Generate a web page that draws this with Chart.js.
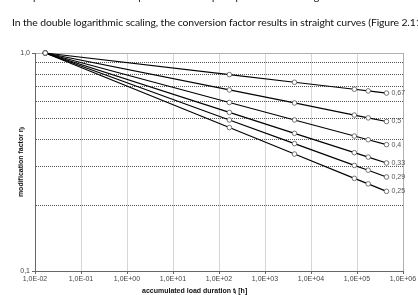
<!DOCTYPE html>
<html>
<head>
<meta charset="utf-8">
<script src="https://cdn.jsdelivr.net/npm/chart.js@4.4.0/dist/chart.umd.min.js"></script>
<style>
html,body{margin:0;padding:0;background:#fff;}
#wrap{position:relative;width:418px;height:295px;overflow:hidden;}
#canvas{position:absolute;left:0;top:0;}
.txt{position:absolute;left:12px;white-space:nowrap;font-family:Lato,"Open Sans",sans-serif;font-size:10.4px;letter-spacing:-0.1px;color:#111;}
</style>
</head>
<body>
<div id="wrap">
<canvas id="canvas" width="418" height="295"></canvas>
<div class="txt" style="top:-10px">Creep should be verified for permanent and quasi-permanent loading conditions.</div>
<div class="txt" style="top:16px">In the double logarithmic scaling, the conversion factor results in straight curves (Figure 2.11).</div>
</div>
<script>
// accumulated load duration [h]: 1 min, 1 week, 6 months, 10, 20, 50 years
var durations = [0.0167, 168, 4380, 87600, 175200, 438000];

var curveLabels = ['0,67', '0,5', '0,4', '0,33', '0,29', '0,25'];
var eta067 = [1.0, 0.796, 0.734, 0.682, 0.670, 0.655];
var eta05  = [1.0, 0.677, 0.590, 0.519, 0.504, 0.485];
var eta04  = [1.0, 0.593, 0.493, 0.416, 0.400, 0.380];
var eta033 = [1.0, 0.534, 0.428, 0.349, 0.333, 0.313];
var eta029 = [1.0, 0.493, 0.384, 0.305, 0.290, 0.270];
var eta025 = [1.0, 0.455, 0.344, 0.266, 0.251, 0.232];

var xTicks = [0.01, 0.1, 1, 10, 100, 1000, 10000, 100000, 1000000];
var xTickLabels = ['1,0E-02', '1,0E-01', '1,0E+00', '1,0E+01', '1,0E+02', '1,0E+03', '1,0E+04', '1,0E+05', '1,0E+06'];
var yTicks = [0.1, 0.2, 0.3, 0.4, 0.5, 0.6, 0.7, 0.8, 0.9, 1.0];
var yTickLabels = ['0,1', '', '', '', '', '', '', '', '', '1,0'];

var series = [eta067, eta05, eta04, eta033, eta029, eta025];

var datasets = series.map(function(s, k){
    return {
        label: curveLabels[k],
        data: s.map(function(v, i){ return {x: durations[i], y: v}; }),
        borderColor: '#000',
        borderWidth: 1.2,
        pointRadius: 2.3,
        pointBorderWidth: 0.8,
        pointBorderColor: '#555',
        pointBackgroundColor: '#fff',
        tension: 0,
        clip: false
    };
});

var endLabels = {
    id: 'endLabels',
    afterDatasetsDraw: function(chart){
        var c = chart.ctx;
        c.save();
        c.font = '7px "Liberation Sans", Arial, sans-serif';
        c.fillStyle = '#555';
        c.textBaseline = 'middle';
        chart.data.datasets.forEach(function(ds, i){
            var pts = chart.getDatasetMeta(i).data;
            var p = pts[pts.length - 1];
            c.fillText(ds.label, p.x + 5, p.y);
        });
        c.restore();
    }
};

var xTitle = {
    id: 'xTitle',
    afterDraw: function(chart){
        var c = chart.ctx;
        c.save();
        c.font = 'bold 7px "Liberation Sans", Arial, sans-serif';
        c.fillStyle = '#111';
        c.textBaseline = 'middle';
        c.fillText('accumulated load duration t\u2097 [h]', chart.chartArea.left + 107, 291);
        c.restore();
    }
};

var ctx = document.getElementById('canvas').getContext('2d');
var myChart = new Chart(ctx, {
    type: 'line',
    data: { datasets: datasets },
    plugins: [endLabels, xTitle],
    options: {
        responsive: false,
        animation: false,
        layout: { padding: { top: 53, right: 15, left: 0, bottom: 0 } },
        plugins: { legend: { display: false }, tooltip: { enabled: false } },
        scales: {
            x: {
                type: 'logarithmic',
                min: 0.01,
                max: 1000000,
                afterBuildTicks: function(axis){
                    axis.ticks = xTicks.map(function(v){ return {value: v}; });
                },
                afterFit: function(axis){ axis.height = 24; },
                ticks: {
                    autoSkip: false,
                    maxRotation: 0,
                    padding: 1,
                    color: '#444',
                    font: { family: '"Liberation Sans", Arial, sans-serif', size: 7 },
                    callback: function(v, i){ return xTickLabels[i]; }
                },
                grid: {
                    color: function(c){ return c.index === xTicks.length - 1 ? '#b0b0b0' : '#d6d6d6'; },
                    lineWidth: 1,
                    tickLength: 3,
                    tickColor: '#666'
                },
                border: { color: '#666', width: 1 }
            },
            y: {
                type: 'logarithmic',
                min: 0.1,
                max: 1,
                afterBuildTicks: function(axis){
                    axis.ticks = yTicks.map(function(v){ return {value: v}; });
                },
                afterFit: function(axis){ axis.width = 35; },
                ticks: {
                    autoSkip: false,
                    padding: 2,
                    color: '#444',
                    font: { family: '"Liberation Sans", Arial, sans-serif', size: 7 },
                    callback: function(v, i){ return yTickLabels[i]; }
                },
                grid: {
                    color: function(c){ return c.index === yTicks.length - 1 ? '#b0b0b0' : '#555'; },
                    lineWidth: 1,
                    tickLength: 3,
                    tickColor: function(c){ return (c.index === 0 || c.index === yTicks.length - 1) ? '#666' : 'rgba(0,0,0,0)'; }
                },
                border: {
                    color: '#666',
                    width: 1,
                    dash: function(c){ return (c.index > 0 && c.index < yTicks.length - 1) ? [1, 1] : []; }
                },
                title: {
                    display: true,
                    text: 'modification factor \u03b7\u2097',
                    color: '#111',
                    font: { family: '"Liberation Sans", Arial, sans-serif', size: 7, weight: 'bold' },
                    padding: { top: 17, bottom: 0 }
                }
            }
        }
    }
});
</script>
</body>
</html>
